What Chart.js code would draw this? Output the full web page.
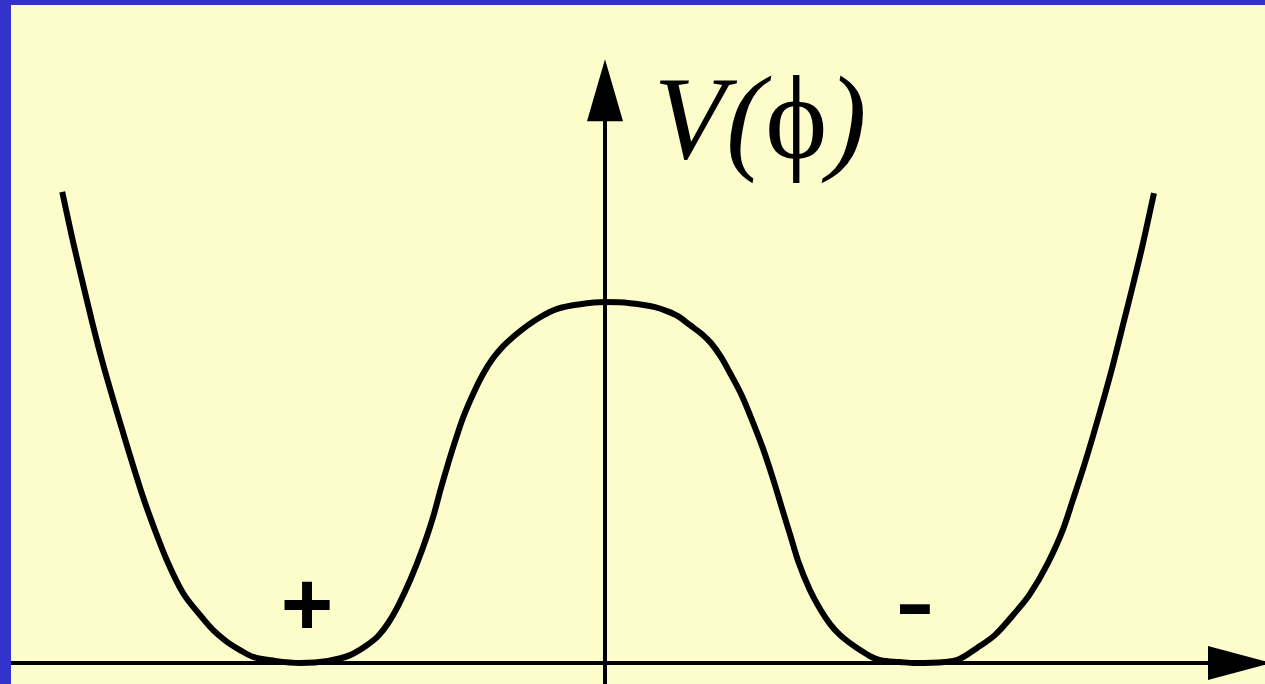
<!DOCTYPE html>
<html>
<head>
<meta charset="utf-8">
<script src="https://cdn.jsdelivr.net/npm/chart.js@4.4.1/dist/chart.umd.min.js"></script>
<style>
  html, body { margin: 0; padding: 0; background: #3333cc; overflow: hidden; }
  #wrap { position: absolute; left: 11px; top: 5px; width: 1254px; height: 679px; background: #fdfdcc; }
</style>
</head>
<body>
<div id="wrap"><canvas id="potential" width="1254" height="679"></canvas></div>
<script>
// double well V(phi); minima at phi = +-1, V(0) = 1
var phi = [-1.780, -1.748, -1.715, -1.682, -1.649, -1.580, -1.515, -1.475, -1.433, -1.384,
  -1.334, -1.285, -1.243, -1.197, -1.154, -1.082, -1.000,
  -0.908, -0.836, -0.780, -0.744, -0.711, -0.679, -0.639, -0.600, -0.564, -0.538,
  -0.518, -0.498, -0.466, -0.433, -0.400, -0.367, -0.334, -0.302, -0.256, -0.213,
  -0.157, -0.082, 0.000, 0.082, 0.164, 0.203, 0.239, 0.279, 0.318, 0.348,
  0.380, 0.410, 0.449, 0.482, 0.515, 0.548, 0.580, 0.607, 0.633, 0.672,
  0.705, 0.738, 0.770, 0.807, 0.836, 0.869, 0.902, 0.967, 1.016,
  1.115, 1.154, 1.220, 1.279, 1.344, 1.393, 1.452, 1.502, 1.534, 1.567,
  1.600, 1.633, 1.666, 1.698, 1.731, 1.764, 1.800];
var V = [1.305, 1.180, 1.061, 0.945, 0.837, 0.637, 0.460, 0.366, 0.277, 0.194,
  0.139, 0.091, 0.061, 0.036, 0.017, 0.006, 0.000,
  0.006, 0.022, 0.050, 0.075, 0.111, 0.158, 0.230, 0.313, 0.404, 0.485,
  0.543, 0.598, 0.679, 0.745, 0.801, 0.845, 0.878, 0.903, 0.934, 0.958,
  0.981, 0.994, 1.000, 0.997, 0.986, 0.975, 0.961, 0.936, 0.911, 0.886,
  0.848, 0.803, 0.740, 0.673, 0.601, 0.518, 0.429, 0.355, 0.283, 0.202,
  0.150, 0.108, 0.078, 0.053, 0.036, 0.019, 0.008, 0.003, 0.000,
  0.003, 0.008, 0.042, 0.078, 0.139, 0.191, 0.277, 0.371, 0.452, 0.537,
  0.629, 0.726, 0.828, 0.936, 1.047, 1.163, 1.302];

// axis title and the two vacua, placed in (phi, V) units
var title = ['V', '(', '\u03d5', ')'];
var titlePhi = 0.16, titleV = 1.40;
var marks = ['+', '-'];
var markPhi = [-0.977, 1.016];
var markV = [0.146, 0.158];

var points = phi.map(function(p, i) { return { x: p, y: V[i] }; });

// axes with arrow heads, drawn through the chart scales
var axesPlugin = {
  id: 'axes',
  beforeDatasetsDraw: function(chart) {
    var c = chart.ctx, xs = chart.scales.x, ys = chart.scales.y;
    var x0 = Math.round(xs.getPixelForValue(0)), y0 = Math.round(ys.getPixelForValue(0));
    c.save();
    c.fillStyle = '#000';
    c.fillRect(0, y0 - 2, chart.width, 4);
    c.fillRect(x0 - 2, Math.round(ys.getPixelForValue(1.6)), 4, chart.height);
    // up arrow
    var tip = ys.getPixelForValue(1.673), base = ys.getPixelForValue(1.501);
    c.beginPath();
    c.moveTo(x0, tip);
    c.lineTo(x0 + 18, base);
    c.lineTo(x0 - 18, base);
    c.closePath();
    c.fill();
    // right arrow
    var bx = xs.getPixelForValue(1.977), tx = xs.getPixelForValue(2.187);
    c.beginPath();
    c.moveTo(tx, y0);
    c.lineTo(bx, y0 - 17);
    c.lineTo(bx, y0 + 17);
    c.closePath();
    c.fill();
    c.restore();
  },
  afterDatasetsDraw: function(chart) {
    var c = chart.ctx, xs = chart.scales.x, ys = chart.scales.y;
    c.save();
    c.fillStyle = '#000';
    c.textBaseline = 'alphabetic';
    var tx = xs.getPixelForValue(titlePhi), ty = ys.getPixelForValue(titleV);
    title.forEach(function(s) {
      c.font = (s === '\u03d5' ? '' : 'italic ') + '118px "Liberation Serif"';
      c.fillText(s, tx, ty);
      tx += c.measureText(s).width;
    });
    c.textAlign = 'center';
    c.textBaseline = 'middle';
    var markFonts = ['bold 90px "Liberation Sans"', 'bold 115px "Liberation Serif"'];
    marks.forEach(function(s, i) {
      c.font = markFonts[i];
      c.fillText(s, xs.getPixelForValue(markPhi[i]), ys.getPixelForValue(markV[i]));
    });
    c.restore();
  }
};

new Chart(document.getElementById('potential'), {
  type: 'line',
  data: {
    datasets: [{
      data: points,
      borderColor: '#000',
      borderWidth: 6,
      pointRadius: 0,
      cubicInterpolationMode: 'monotone',
      fill: false
    }]
  },
  options: {
    responsive: false,
    animation: false,
    layout: { padding: 0 },
    plugins: { legend: { display: false }, tooltip: { enabled: false } },
    scales: {
      x: { type: 'linear', min: -1.948, max: 2.164, display: false },
      y: { type: 'linear', min: -0.058, max: 1.823, display: false }
    }
  },
  plugins: [axesPlugin]
});
</script>
</body>
</html>
